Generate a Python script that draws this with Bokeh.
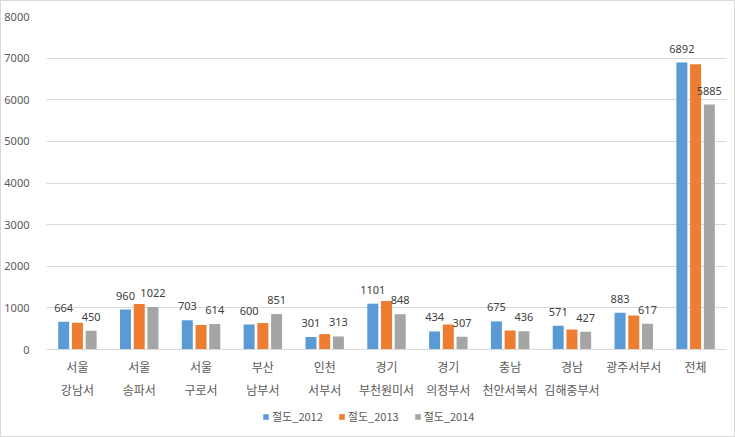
from bokeh.plotting import figure
from bokeh.models import ColumnDataSource, FactorRange, Legend, LegendItem, FixedTicker, Range1d
from bokeh.transform import dodge
from bokeh.embed import file_html
from bokeh.resources import INLINE
from bokeh.core.properties import value

categories = ["서울\n강남서", "서울\n송파서", "서울\n구로서", "부산\n남부서", "인천\n서부서",
              "경기\n부천원미서", "경기\n의정부서", "충남\n천안서북서", "경남\n김해중부서",
              "광주서부서", "전체"]
theft_2012 = [664, 960, 703, 600, 301, 1101, 434, 675, 571, 883, 6892]
theft_2013 = [640, 1095, 590, 635, 370, 1165, 600, 455, 480, 815, 6855]
theft_2014 = [450, 1022, 614, 851, 313, 848, 307, 436, 427, 617, 5885]
series_names = ["절도_2012", "절도_2013", "절도_2014"]
y_ticks = [0, 1000, 2000, 3000, 4000, 5000, 6000, 7000, 8000]

colors = ["#5B9BD5", "#ED7D31", "#A5A5A5"]

src = ColumnDataSource(dict(
    cat=categories,
    v2012=theft_2012, v2013=theft_2013, v2014=theft_2014,
    t2012=[str(v) for v in theft_2012],
    t2014=[str(v) for v in theft_2014],
))

# extra room below zero holds the category labels and the legend
p = figure(x_range=FactorRange(*categories, range_padding=0), y_range=Range1d(-2138, 8000),
           width=735, height=437, output_backend="svg", toolbar_location=None,
           min_border_left=45, min_border_right=10, min_border_top=15, min_border_bottom=0)
p.styles = {"border": "1px solid #D9D9D9", "box-sizing": "border-box"}
p.outline_line_color = None
p.background_fill_color = "white"
p.border_fill_color = "white"

bw = 0.178
off = 0.222
r1 = p.vbar(x=dodge("cat", -off, range=p.x_range), top="v2012", width=bw, source=src,
            fill_color=colors[0], line_color=None)
r2 = p.vbar(x=dodge("cat", 0, range=p.x_range), top="v2013", width=bw, source=src,
            fill_color=colors[1], line_color=None)
r3 = p.vbar(x=dodge("cat", off, range=p.x_range), top="v2014", width=bw, source=src,
            fill_color=colors[2], line_color=None)

for xoff, col, txt in [(-off, "v2012", "t2012"), (off, "v2014", "t2014")]:
    p.text(x=dodge("cat", xoff, range=p.x_range), y=col, text=txt, source=src,
           text_align="center", text_baseline="bottom", y_offset=-10,
           text_font=value("Noto Sans"), text_font_size="11px", text_color="#404040")

p.xgrid.grid_line_color = None
p.ygrid.grid_line_color = "#D9D9D9"
p.ygrid.ticker = FixedTicker(ticks=y_ticks)

p.yaxis.ticker = FixedTicker(ticks=y_ticks)
p.yaxis.axis_line_color = None
p.yaxis.major_tick_line_color = None
p.yaxis.minor_tick_line_color = None
p.yaxis.major_label_standoff = 11
p.yaxis.major_label_text_font = "Noto Sans"
p.yaxis.major_label_text_font_size = "11px"
p.yaxis.major_label_text_color = "#595959"

p.xaxis.fixed_location = 0
p.xaxis.axis_line_color = "#D9D9D9"
p.xaxis.major_tick_line_color = None
p.xaxis.minor_tick_line_color = None
p.xaxis.major_tick_out = 0
p.xaxis.major_label_standoff = 8
p.xaxis.major_label_text_font = "Noto Sans CJK KR"
p.xaxis.major_label_text_font_size = "12px"
p.xaxis.major_label_text_color = "#595959"
p.xaxis.major_label_text_line_height = 1.4
p.xaxis.major_label_orientation = "horizontal"

legend = Legend(items=[LegendItem(label=series_names[0], renderers=[r1]),
                       LegendItem(label=series_names[1], renderers=[r2]),
                       LegendItem(label=series_names[2], renderers=[r3])],
                orientation="horizontal", location=(216, 14),
                glyph_width=7, glyph_height=7, label_height=12, label_standoff=3,
                spacing=15, padding=0, margin=0, border_line_color=None,
                background_fill_alpha=0,
                label_text_font="Noto Sans CJK KR", label_text_font_size="11px",
                label_text_color="#595959")
p.add_layout(legend, "center")

open("out.html", "w").write(file_html(p, INLINE))
